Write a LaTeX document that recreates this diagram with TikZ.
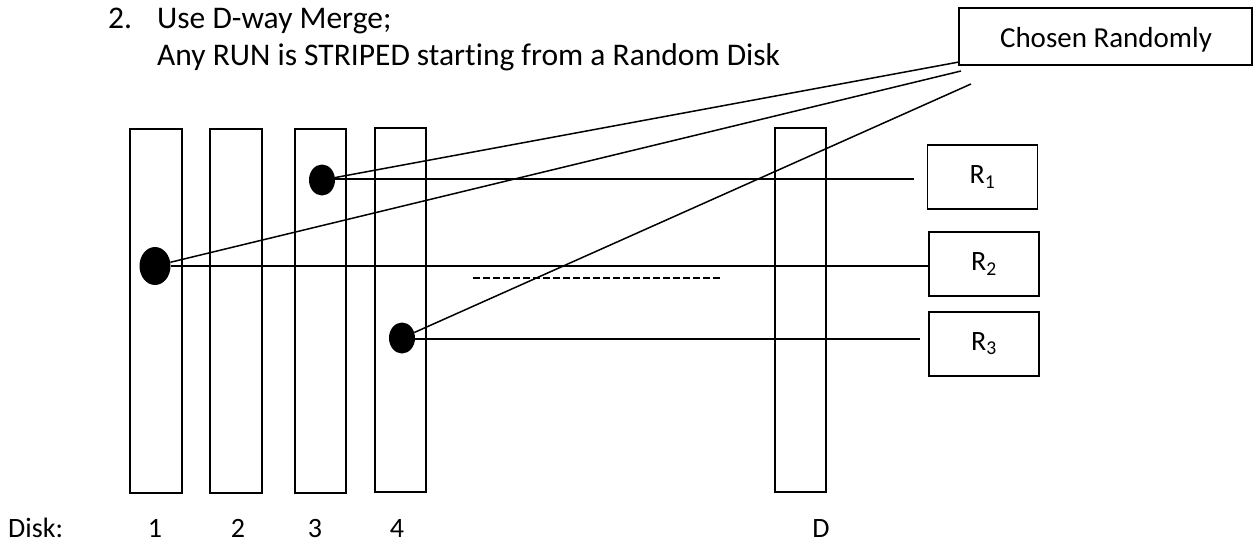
\documentclass[tikz,border=0pt]{standalone}
\usepackage{fontspec}
\setmainfont[Ligatures=NoCommon]{Carlito}
\usetikzlibrary{shapes.geometric}
\begin{document}
\begin{tikzpicture}[x=1pt,y=-1pt,
  disk/.style={draw,line width=1.4pt},
  rbox/.style={draw,line width=1.4pt,minimum width=110pt,minimum height=64pt,inner sep=0pt,font=\fontsize{28}{30}\selectfont},
  dot/.style={ellipse,fill=black,inner sep=0pt},
  conn/.style={line width=1.5pt},
  toptext/.style={anchor=base west,inner sep=0pt,font=\fontsize{31.5}{34}\selectfont},
  lbl/.style={anchor=base,inner sep=0pt,font=\fontsize{28}{30}\selectfont}]
\useasboundingbox (0,0) rectangle (1254,543);
% heading
\node[toptext] (num) at (108,29) {2.};
\node[toptext] (h1) at (157,29) {Use D-way Merge;};
\node[toptext] (h2) at (157,66) {Any RUN is STRIPED starting from a Random Disk};
% chosen box
\draw[disk] (959,8) rectangle (1252,65);
\node[anchor=base,inner sep=0pt,font=\fontsize{29}{31}\selectfont] (chosen) at (1106,48) {Chosen Randomly};
\coordinate (c1) at (959,62);
\coordinate (c2) at (961,71);
\coordinate (c3) at (971,84);
% disks
\draw[disk] (130,129) rectangle (182,493);
\draw[disk] (210,129) rectangle (262,493);
\draw[disk] (295,129) rectangle (346,493);
\draw[disk] (375,128) rectangle (426,492);
\draw[disk] (775,128) rectangle (826,492);
% dots
\node[dot,minimum width=26pt,minimum height=31pt] (d3) at (322,180) {};
\node[dot,minimum width=31pt,minimum height=38pt] (d1) at (155,266) {};
\node[dot,minimum width=26pt,minimum height=31pt] (d4) at (402,338) {};
% run boxes
\node[rbox] (r1) at (982.5,177) {R\textsubscript{1}};
\node[rbox] (r2) at (984,264) {R\textsubscript{2}};
\node[rbox] (r3) at (984,344) {R\textsubscript{3}};
\coordinate (e1) at (914,179);
\coordinate (e3) at (920,339);
% connectors
\draw[conn] (d3.east |- e1) -- (e1);
\draw[conn] (d1.east) -- (d1.east -| r2.west);
\draw[conn] (d4.east |- e3) -- (e3);
\draw[conn] (c1) -- (d3);
\draw[conn] (c2) -- (d1);
\draw[conn] (c3) -- (d4);
% dashed
\coordinate (m1) at (473,278);
\coordinate (m2) at (720,278);
\draw[line width=2pt,dash pattern=on 7pt off 3pt] (m1) -- (m2);
% labels
\node[lbl,anchor=base west] (disklbl) at (8,537) {Disk:};
\node[lbl] (l1) at (155,537) {1};
\node[lbl] (l2) at (238,537) {2};
\node[lbl] (l3) at (315,537) {3};
\node[lbl] (l4) at (397,537) {4};
\node[lbl] (lD) at (821,537) {D};
\end{tikzpicture}
\end{document}
